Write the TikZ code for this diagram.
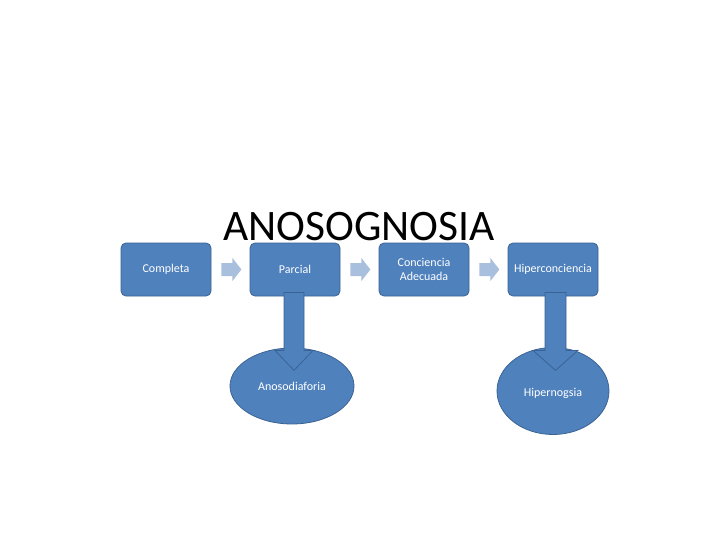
\documentclass[tikz,border=0pt]{standalone}
\usepackage{fontspec}
\setmainfont{Carlito}
\usetikzlibrary{shapes.geometric,calc}
\definecolor{boxblue}{HTML}{4F81BD}
\definecolor{boxedge}{HTML}{3A6393}
\definecolor{lightarrow}{HTML}{A9BFDE}
\tikzset{
  stagebox/.style={rectangle,rounded corners=5pt,fill=boxblue,draw=boxedge,line width=0.8pt,
    minimum width=90pt,minimum height=53pt,text=white,align=center,
    font=\fontsize{12}{14}\selectfont},
  oval/.style={ellipse,fill=boxblue,draw=boxedge,line width=0.8pt,text=white,
    font=\fontsize{12}{14}\selectfont},
  smallarrow/.style={fill=lightarrow},
  bigarrow/.style={fill=boxblue,draw=boxedge,line width=0.8pt}
}
\begin{document}
\begin{tikzpicture}[x=1pt,y=-1pt]
\useasboundingbox (0,0) rectangle (720,540);
\node (title) at (359,227) {\fontsize{43.5}{50}\selectfont ANOSOGNOSIA};
\node[stagebox] (c1) at (166,269.5) {Completa};
\node[stagebox] (c2) at (295,269.5) {Parcial};
\node[stagebox] (c3) at (424,269.5) {Conciencia\\Adecuada};
\node[stagebox] (c4) at (553,269.5) {Hiperconciencia};
\node[oval,minimum width=124pt,minimum height=76pt] (e1) at (292,386) {Anosodiaforia};
\node[oval,minimum width=112pt,minimum height=87pt,text depth=0pt,yshift=-1pt] (e2) at (553,390) {\raisebox{-3pt}{Hipernogsia}};
\foreach \a in {c1,c2,c3}{
  \path[smallarrow] ($(\a.east)+(10,-6.5)$) -- ++(11,0) -- ++(0,-5) -- ++(9,11.5)
    -- ++(-9,11.5) -- ++(0,-5) -- ++(-11,0) -- cycle;
}
\path[bigarrow] ($(c2.south)+(-11,-4)$) -- ++(20,0) -- ++(0,58) -- ++(9,0) -- ++(-19,20)
  -- ++(-19,-20) -- ++(9,0) -- cycle;
\path[bigarrow] ($(c4.south)+(-8,-4)$) -- ++(21,0) -- ++(0,58) -- ++(12,0) -- ++(-22.5,20)
  -- ++(-22.5,-20) -- ++(12,0) -- cycle;
\end{tikzpicture}
\end{document}
